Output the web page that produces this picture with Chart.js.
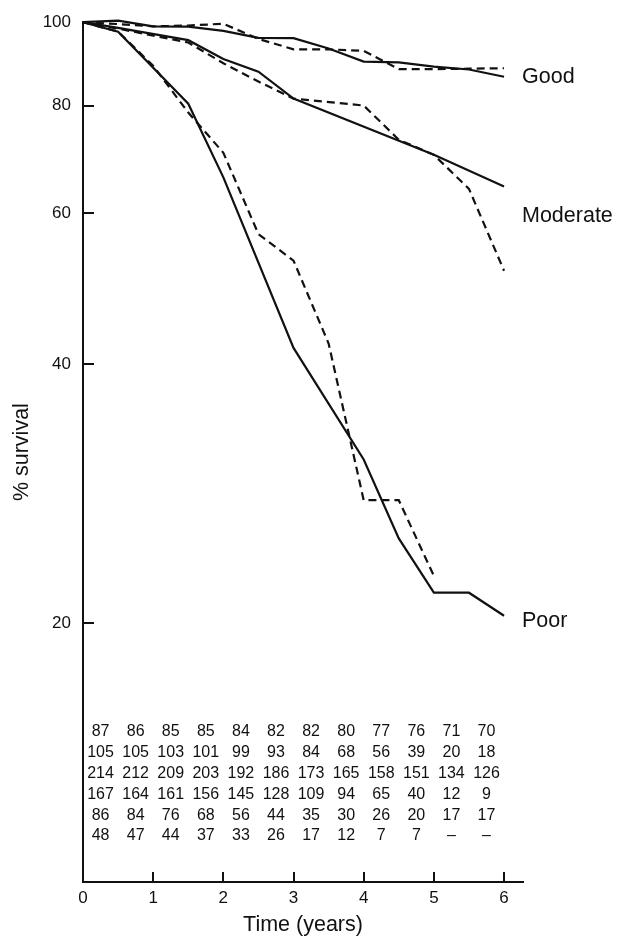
<!DOCTYPE html>
<html>
<head>
<meta charset="utf-8">
<script src="https://cdn.jsdelivr.net/npm/chart.js@4.4.1/dist/chart.umd.min.js"></script>
<style>
  html, body { margin: 0; padding: 0; background: #fff; }
  canvas { display: block; }
</style>
</head>
<body>
<canvas id="survivalChart" width="630" height="938"></canvas>
<script>
// time points (years); null = no vertex there, line runs straight across
const years = [0, 0.5, 1, 1.5, 2, 2.5, 3, 3.5, 4, 4.5, 5, 5.5, 6];

const goodSolid   = [100, 100.4, 98.9, 98.8, 97.7, 95.9, 95.8, 93.2, 90.0, 89.8, 88.8, 88.1, 86.4];
const goodDashed  = [100, 99.5, 98.9, 99.1, 99.6, 95.6, 93.0, 93.0, 92.6, 88.2, 88.2, 88.3, 88.4];
const modSolid    = [100, 98.5, null, 95.3, 90.6, 87.6, 81.5, null, null, null, 70.1, null, 64.4];
const modDashed   = [100, 98.3, null, 94.7, 89.6, 85.3, 81.5, null, 80.0, 73.0, 70.1, 64.0, 51.4];
const poorSolid   = [100, 97.5, null, 80.4, 66.0, null, 41.8, null, 31.0, 25.1, 21.7, 21.7, 20.4];
const poorDashed  = [100, 97.5, 89.0, 78.5, 70.5, 56.7, 52.8, 42.3, 27.8, 27.8, 22.7, null, null];

const groupNames = ["Good", "Moderate", "Poor"];

const xTicks = [0, 1, 2, 3, 4, 5, 6];
const yTicks = [20, 40, 60, 80, 100];

// numbers at risk, one column per half year (centred at 0.25, 0.75, ...)
const riskTimes = [0.25, 0.75, 1.25, 1.75, 2.25, 2.75, 3.25, 3.75, 4.25, 4.75, 5.25, 5.75];
const risk1 = [87, 86, 85, 85, 84, 82, 82, 80, 77, 76, 71, 70];
const risk2 = [105, 105, 103, 101, 99, 93, 84, 68, 56, 39, 20, 18];
const risk3 = [214, 212, 209, 203, 192, 186, 173, 165, 158, 151, 134, 126];
const risk4 = [167, 164, 161, 156, 145, 128, 109, 94, 65, 40, 12, 9];
const risk5 = [86, 84, 76, 68, 56, 44, 35, 30, 26, 20, 17, 17];
const risk6 = [48, 47, 44, 37, 33, 26, 17, 12, 7, 7, null, null];
const riskRows = [risk1, risk2, risk3, risk4, risk5, risk6];

const INK = "#111";
const FONT = "'Liberation Sans', Arial, Helvetica, sans-serif";

function series(values, dashed) {
    return {
        data: years.map((t, i) => ({ x: t, y: values[i] })),
        borderColor: INK,
        borderWidth: 2.2,
        borderDash: dashed ? [8, 5] : [],
        pointRadius: 0,
        tension: 0,
        spanGaps: true,
        clip: false
    };
}

const extras = {
    id: "extras",
    afterDraw(chart) {
        const { ctx, chartArea, scales: { x, y } } = chart;
        ctx.save();
        ctx.strokeStyle = INK;
        ctx.lineWidth = 2;

        // inward tick marks
        ctx.beginPath();
        x.ticks.forEach(t => {
            if (t.value === 0) return;
            const px = Math.round(x.getPixelForValue(t.value));
            ctx.moveTo(px, chartArea.bottom);
            ctx.lineTo(px, chartArea.bottom - 10);
        });
        y.ticks.forEach(t => {
            if (t.value === 100) return;
            const py = Math.round(y.getPixelForValue(t.value));
            ctx.moveTo(chartArea.left, py);
            ctx.lineTo(chartArea.left + 11, py);
        });
        ctx.stroke();

        // numbers-at-risk table
        ctx.fillStyle = INK;
        ctx.font = "16px " + FONT;
        ctx.textAlign = "center";
        ctx.textBaseline = "middle";
        riskRows.forEach((row, r) => {
            const py = chartArea.bottom - 150 + r * 20.8;
            row.forEach((n, c) => {
                ctx.fillText(n === null ? "–" : String(n), x.getPixelForValue(riskTimes[c]), py);
            });
        });

        // group labels at the right-hand ends
        ctx.font = "21.5px " + FONT;
        ctx.textAlign = "left";
        const ends = [goodSolid, modSolid, poorSolid];
        const nudge = [0, 30, 5];
        groupNames.forEach((name, i) => {
            const last = ends[i][ends[i].length - 1];
            ctx.fillText(name, chartArea.right - 1, y.getPixelForValue(last) + nudge[i]);
        });
        ctx.restore();
    }
};

new Chart(document.getElementById("survivalChart"), {
    type: "line",
    data: {
        datasets: [
            series(goodSolid, false),
            series(goodDashed, true),
            series(modSolid, false),
            series(modDashed, true),
            series(poorSolid, false),
            series(poorDashed, true)
        ]
    },
    options: {
        responsive: false,
        animation: false,
        devicePixelRatio: 1,
        layout: { padding: { top: 16, right: 107, left: 0, bottom: 0 } },
        plugins: { legend: { display: false }, tooltip: { enabled: false } },
        scales: {
            x: {
                type: "linear",
                min: 0,
                max: 6.27,
                afterBuildTicks: s => { s.ticks = xTicks.map(v => ({ value: v })); },
                afterFit: s => { s.height = 56; },
                grid: { display: true, drawOnChartArea: false, drawTicks: false },
                border: { display: true, color: INK, width: 2 },
                ticks: {
                    autoSkip: false, maxRotation: 0, padding: 6, color: INK,
                    font: { family: FONT, size: 17 },
                    callback: v => String(v)
                },
                title: {
                    display: true, text: "Time (years)", color: INK,
                    font: { family: FONT, size: 21.5, lineHeight: 1.2 },
                    padding: { top: 0, bottom: 0 }
                }
            },
            y: {
                type: "logarithmic",
                min: 10,
                max: 100,
                afterBuildTicks: s => { s.ticks = yTicks.map(v => ({ value: v })); },
                afterFit: s => { s.width = 83; },
                grid: { display: true, drawOnChartArea: false, drawTicks: false },
                border: { display: true, color: INK, width: 2 },
                ticks: {
                    autoSkip: false, padding: 12, color: INK,
                    font: { family: FONT, size: 17 },
                    callback: v => String(v)
                },
                title: {
                    display: true, text: "% survival", color: INK,
                    font: { family: FONT, size: 21.5, lineHeight: 1.2 },
                    padding: { top: 9, bottom: 0 }
                }
            }
        }
    },
    plugins: [extras]
});
</script>
</body>
</html>
